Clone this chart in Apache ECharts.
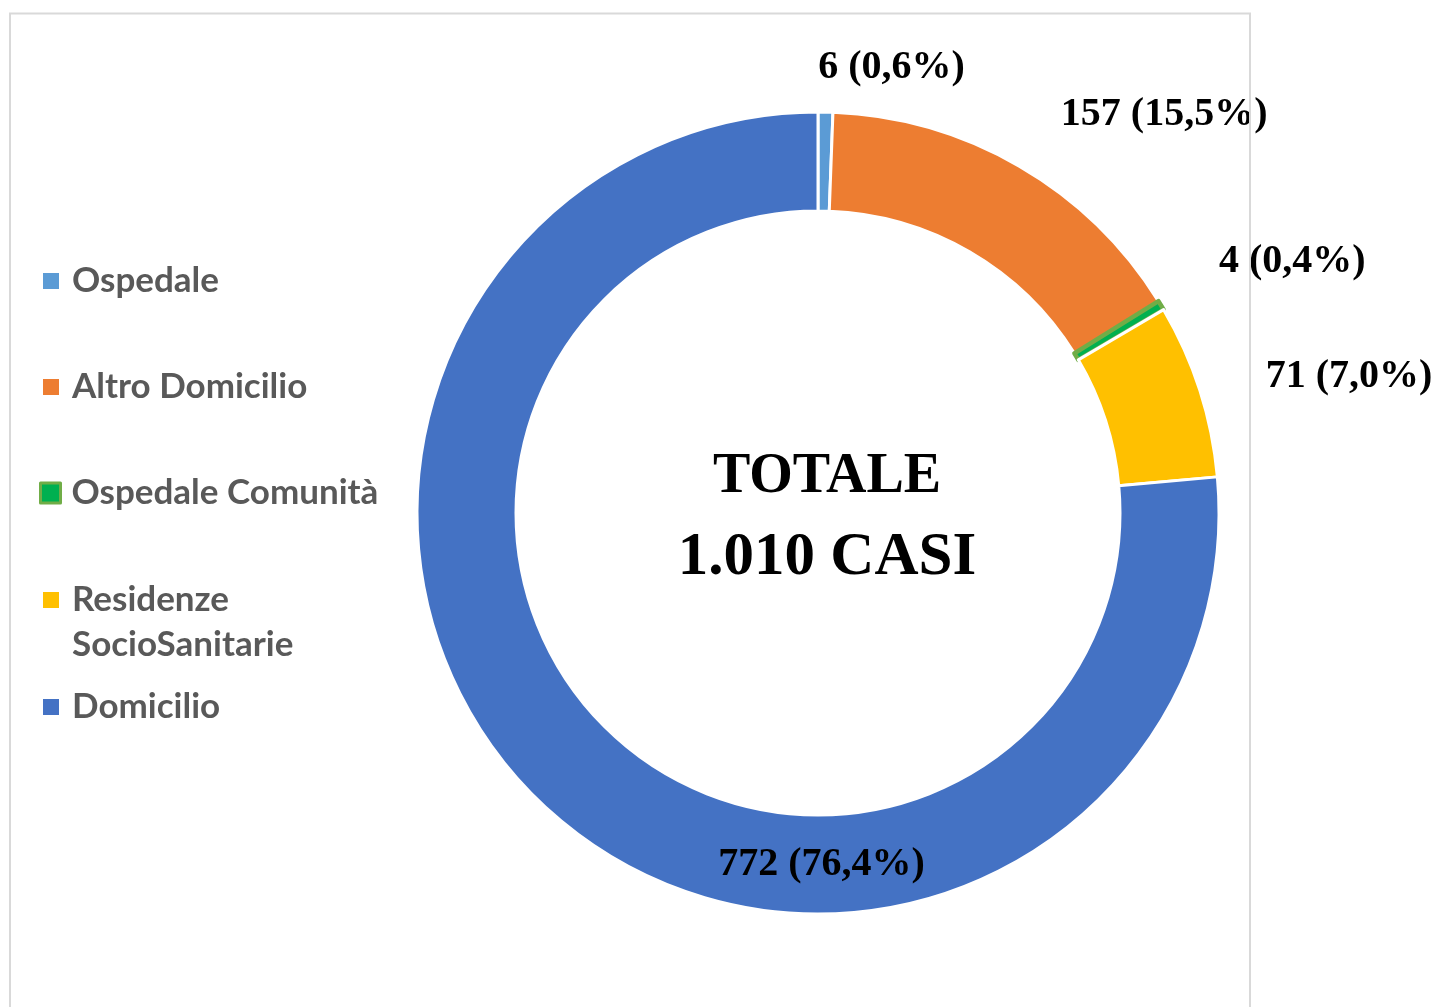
<!DOCTYPE html>
<html>
<head>
<meta charset="utf-8">
<title>Totale casi</title>
<script src="https://cdn.jsdelivr.net/npm/echarts@6/dist/echarts.min.js"></script>
<style>
  html, body { margin: 0; padding: 0; background: #fff; }
  #chart { width: 1437px; height: 1007px; }
</style>
</head>
<body>
<div id="chart"></div>
<script>
const categories = ['Ospedale', 'Altro Domicilio', 'Ospedale Comunità', 'Residenze SocioSanitarie', 'Domicilio']
const values = [6, 157, 4, 71, 772]
const colors = ['#5B9BD5', '#ED7D31', '#00B050', '#FFC000', '#4472C4']

const total = values.reduce((a, b) => a + b, 0)

// formato italiano: 1.010 / 15,5
function fmtInt(n) { return String(n).replace(/\B(?=(\d{3})+(?!\d))/g, '.') }
function fmtPct(v) { return (v / total * 100).toFixed(1).replace('.', ',') }

// posizione etichette (come in Excel): length / length2 della linea nascosta
const labelLines = [[44, -13], [59, 7], [84, -19], [44, 19], [75, -433]]
// top di ogni voce della legenda
const legendTops = [258.5, 364.5, 470.5, 532.5, 684.5]

const chart = echarts.init(document.getElementById('chart'))

const legendFont = { fontFamily: 'Lato', fontWeight: 'bold', fontSize: 35, color: '#595959', lineHeight: 45 }

const legends = categories.map((name, i) => {
  const special = i === 2
  return {
    orient: 'vertical',
    left: special ? 39 : 43,
    top: legendTops[i],
    padding: 0,
    data: [name],
    icon: 'rect',
    itemWidth: special ? 20 : 16,
    itemHeight: special ? 20 : 16,
    selectedMode: false,
    itemStyle: special ? { borderColor: '#70AD47', borderWidth: 3 } : { borderWidth: 0 },
    // testo su due righe: la prima riga resta allineata al quadratino
    formatter: (n) => n.indexOf(' SocioSanitarie') > 0 ? '\n' + n.replace(' SocioSanitarie', '\nSocioSanitarie') : n,
    textStyle: Object.assign({}, legendFont, { padding: [0, 0, 0, special ? 6 : 8] }),
  }
})

chart.setOption({
  animation: false,
  backgroundColor: '#fff',
  legend: legends,
  graphic: [
    {
      type: 'rect',
      z: 100,
      silent: true,
      shape: { x: 10, y: 13.5, width: 1240, height: 1020 },
      style: { fill: 'none', stroke: '#d9d9d9', lineWidth: 2 },
    },
    {
      type: 'text',
      z: 100,
      x: 827,
      y: 518,
      style: {
        text: '{a|TOTALE}\n{b|' + fmtInt(total) + ' CASI}',
        align: 'center',
        verticalAlign: 'middle',
        rich: {
          a: { fontFamily: 'Liberation Serif', fontWeight: 'bold', fontSize: 56, lineHeight: 81, fill: '#000', align: 'center' },
          b: { fontFamily: 'Liberation Serif', fontWeight: 'bold', fontSize: 61, lineHeight: 81, fill: '#000', align: 'center' },
        },
      },
    },
  ],
  series: [
    {
      type: 'pie',
      center: [818, 513],
      radius: [302, 401],
      startAngle: 90,
      clockwise: true,
      avoidLabelOverlap: false,
      silent: true,
      emphasis: { disabled: true },
      itemStyle: { borderColor: '#fff', borderWidth: 3 },
      label: {
        show: true,
        position: 'outside',
        fontFamily: 'Liberation Serif',
        fontWeight: 'bold',
        fontSize: 40,
        color: '#000',
        formatter: (p) => p.value + ' (' + fmtPct(p.value) + '%)',
      },
      labelLine: { show: false },
      data: categories.map((name, i) => ({
        name,
        value: values[i],
        itemStyle: i === 2
          ? { color: colors[i], borderColor: '#70AD47', borderWidth: 4.5 }
          : { color: colors[i] },
        labelLine: { show: false, length: labelLines[i][0], length2: labelLines[i][1] },
      })),
    },
  ],
})
</script>
</body>
</html>
